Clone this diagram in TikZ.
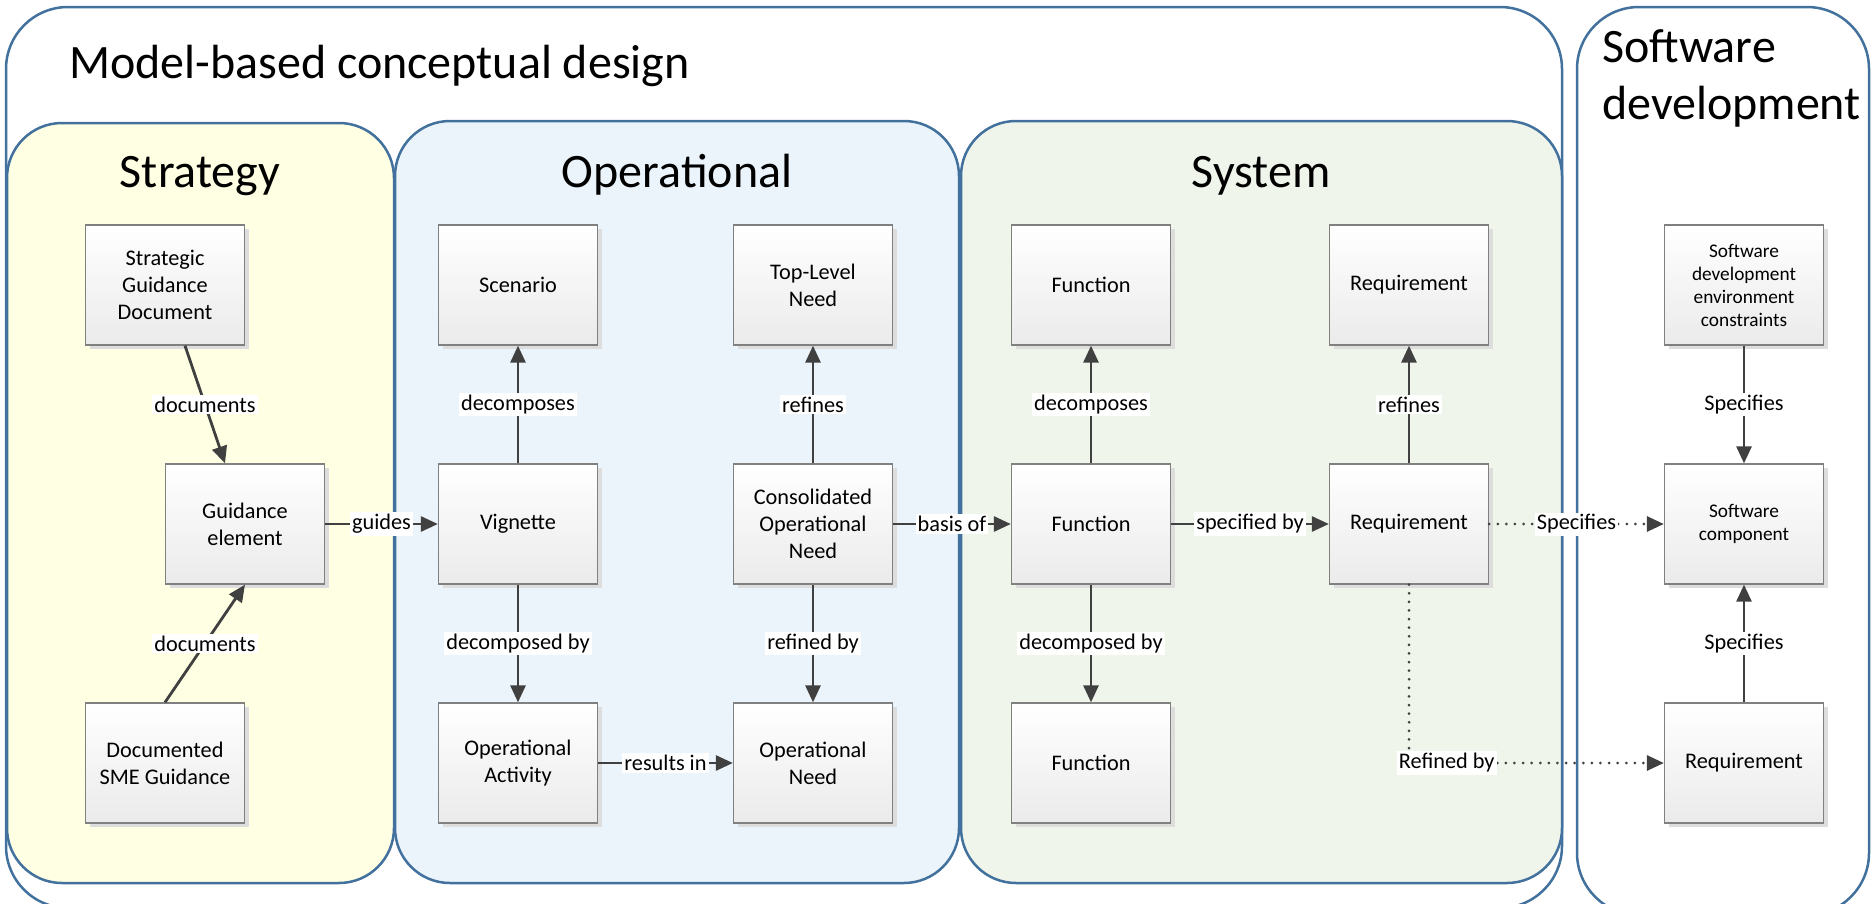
\documentclass[tikz,border=0pt]{standalone}
\usepackage{fontspec}
\setmainfont{Carlito}
\usetikzlibrary{arrows.meta,shadows,calc}
\definecolor{panelblue}{HTML}{41719C}
\definecolor{stratfill}{HTML}{FFFFE4}
\definecolor{opfill}{HTML}{EBF3FB}
\definecolor{sysfill}{HTML}{EFF5EA}
\definecolor{arrowgray}{HTML}{404040}
\definecolor{boxborder}{HTML}{808080}
\definecolor{shadowgray}{HTML}{DDDDDD}
\begin{document}
\begin{tikzpicture}[x=1pt,y=-1pt,
  panel/.style={draw=panelblue,line width=2.5pt,rounded corners=55pt},
  elem/.style={draw=boxborder,line width=1.3pt,top color=white,bottom color=black!8,
    minimum width=159pt,minimum height=120pt,align=center,inner sep=2pt,
    font=\fontsize{22.3}{26.7}\selectfont,
    general shadow={fill=shadowgray,shadow xshift=4pt,shadow yshift=-4pt}},
  smallelem/.style={elem,font=\fontsize{19.3}{23}\selectfont},
  title/.style={font=\fontsize{48}{57}\selectfont,inner sep=0pt},
  arr/.style={draw=arrowgray,line width=2.8pt,-{Triangle[length=17pt,width=15pt]}},
  dotarr/.style={arr,line width=3pt,dash pattern=on 0pt off 8.6pt,line cap=round},
  lbl/.style={fill=white,inner sep=2pt,text=black,font=\fontsize{22.3}{26.7}\selectfont}
]
\path[use as bounding box,clip] (0,0) rectangle (1872,903);
% containers
\draw[panel,rounded corners=62pt,fill=white] (6,7) rectangle (1562,908);
\draw[panel,rounded corners=62pt,fill=white] (1577,7) rectangle (1869,915);
\draw[panel,fill=stratfill] (7,123) rectangle (394,883);
\draw[panel,fill=opfill] (395,121) rectangle (959,883);
\draw[panel,fill=sysfill] (961,121) rectangle (1562,883);
% titles
\node[title,anchor=base west] (tmb) at (69,78) {Model-based conceptual design};
\node[title,anchor=base west,align=left] (tsw) at (1602,119) {Software\\development};
\node[title,anchor=base] (tst) at (200,187) {Strategy};
\node[title,anchor=base] (top) at (677,187) {Operational};
\node[title,anchor=base] (tsy) at (1261,187) {System};
% elements
\node[elem] (sgd) at (165,285) {Strategic\\Guidance\\Document};
\node[elem] (ge) at (245,524) {Guidance\\element};
\node[elem] (dsme) at (165,763) {Documented\\SME Guidance};
\node[elem] (scen) at (518,285) {Scenario};
\node[elem] (vig) at (518,524) {Vignette};
\node[elem] (oa) at (518,763) {Operational\\Activity};
\node[elem] (tln) at (813,285) {Top-Level\\Need};
\node[elem] (con) at (813,524) {Consolidated\\Operational\\Need};
\node[elem] (on) at (813,763) {Operational\\Need};
\node[elem] (f1) at (1091,285) {Function};
\node[elem] (f2) at (1091,524) {Function};
\node[elem] (f3) at (1091,763) {Function};
\node[elem] (r1) at (1409,285) {Requirement};
\node[elem] (r2) at (1409,524) {Requirement};
\node[smallelem] (swc) at (1744,285) {Software\\development\\environment\\constraints};
\node[smallelem] (swcomp) at (1744,524) {Software\\component};
\node[elem] (swr) at (1744,763) {Requirement};
% connectors
\draw[arr] ([xshift=20pt]sgd.south) -- node[lbl]{documents} ([xshift=-20pt]ge.north);
\draw[arr] (dsme.north) -- node[lbl]{documents} (ge.south);
\draw[arr] (ge) -- node[lbl]{guides} (vig);
\draw[arr] (vig) -- node[lbl]{decomposes} (scen);
\draw[arr] (vig) -- node[lbl]{decomposed by} (oa);
\draw[arr] (oa) -- node[lbl]{results in} (on);
\draw[arr] (con) -- node[lbl]{refines} (tln);
\draw[arr] (con) -- node[lbl]{refined by} (on);
\draw[arr] (con) -- node[lbl]{basis of} (f2);
\draw[arr] (f2) -- node[lbl]{decomposes} (f1);
\draw[arr] (f2) -- node[lbl]{decomposed by} (f3);
\draw[arr] (f2) -- node[lbl]{specified by} (r2);
\draw[arr] (r2) -- node[lbl]{refines} (r1);
\draw[dotarr] (r2) -- node[lbl]{Specifies} (swcomp);
\draw[dotarr] (r2.south) |- node[lbl,pos=0.574]{Refined by} (swr.west);
\draw[arr] (swc) -- node[lbl]{Specifies} (swcomp);
\draw[arr] (swr) -- node[lbl]{Specifies} (swcomp);
\end{tikzpicture}
\end{document}
